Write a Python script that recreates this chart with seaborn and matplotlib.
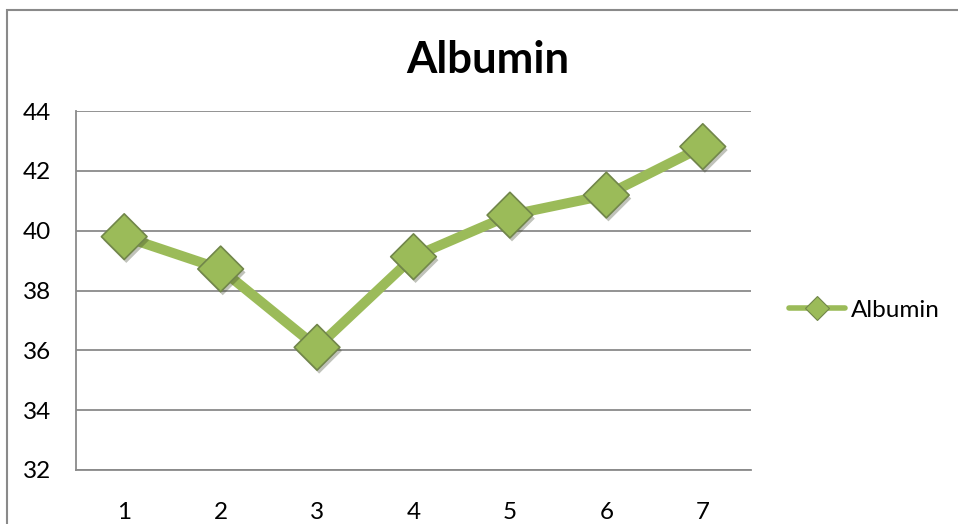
import matplotlib
matplotlib.use("Agg")
import matplotlib.pyplot as plt
import matplotlib.patheffects as pe
from matplotlib.lines import Line2D
from matplotlib.patches import Rectangle
import seaborn as sns
import pandas as pd

# ---- data ----
categories = [1, 2, 3, 4, 5, 6, 7]
albumin = [39.8, 38.72, 36.1, 39.13, 40.52, 41.19, 42.81]
y_ticks = [32, 34, 36, 38, 40, 42, 44]
series_name = "Albumin"

df = pd.DataFrame({"x": categories, "y": albumin})

sns.set_style("white")
plt.rcParams["font.family"] = ["Lato", "DejaVu Sans"]
plt.rcParams["text.color"] = "black"

W, H = 958, 524
fig = plt.figure(figsize=(W / 100, H / 100), dpi=100)
ax = fig.add_axes([76 / W, 1 - 470 / H, (751 - 76) / W, (470 - 111) / H])

green = "#9bbb59"
edge = "#71864a"
grid_c = "#8a8a8a"

sns.lineplot(data=df, x="x", y="y", ax=ax, color=green, legend=False, zorder=3)
for ln in ax.lines:
    ln.set_linewidth(7.2)
    ln.set_solid_capstyle("round")
sns.scatterplot(data=df, x="x", y="y", ax=ax, color=green, marker="D", s=540,
                edgecolor=edge, linewidth=1.2, legend=False, zorder=4,
                path_effects=[pe.SimplePatchShadow(offset=(1.5, -2.5), alpha=0.3), pe.Normal()])

ax.set_xlim(0.5, 7.5)
ax.set_ylim(32, 44)
ax.set_yticks(y_ticks)
ax.set_yticklabels([str(v) for v in y_ticks])
ax.set_xticks(categories)
ax.set_xticklabels([str(c) for c in categories])
ax.set_xticks([c - 0.5 for c in categories] + [7.5], minor=True)
ax.tick_params(axis="x", which="major", length=0, pad=23, labelsize=17.5, colors="black")
ax.tick_params(axis="x", which="minor", length=5, width=1.2, color=grid_c, direction="out")
ax.tick_params(axis="y", which="major", length=5.8, width=1.2, color=grid_c, pad=12,
               labelsize=17.5, labelcolor="black", direction="out")
ax.yaxis.grid(True, color=grid_c, linewidth=1.3)
ax.xaxis.grid(False)
ax.set_axisbelow(True)
ax.set_xlabel("")
ax.set_ylabel("")
for s in ["top", "right"]:
    ax.spines[s].set_visible(False)
for s in ["left", "bottom"]:
    ax.spines[s].set_color(grid_c)
    ax.spines[s].set_linewidth(1.3)

fig.text(488 / W, 1 - 60 / H, series_name, ha="center", va="center",
         fontsize=31.5, fontweight="bold", color="black")

handle = Line2D([], [], color=green, linewidth=4, marker="D", markersize=12,
                markerfacecolor=green, markeredgecolor=edge, markeredgewidth=0.8)
leg = ax.legend([handle], [series_name], loc="center left", bbox_to_anchor=(789 / W, 1 - 310 / H),
                bbox_transform=fig.transFigure, frameon=False, fontsize=17.5,
                handlelength=2.3, handletextpad=0.25, borderaxespad=0, borderpad=0)
for t in leg.get_texts():
    t.set_color("black")

# chart area border (Excel-style frame, cropped at bottom/right)
fig.patches.append(Rectangle((7 / W, -0.1), 1.2, 1 - 10 / H + 0.1, transform=fig.transFigure,
                             fill=False, edgecolor=grid_c, linewidth=1.5))

fig.savefig("out.png", dpi=100)
